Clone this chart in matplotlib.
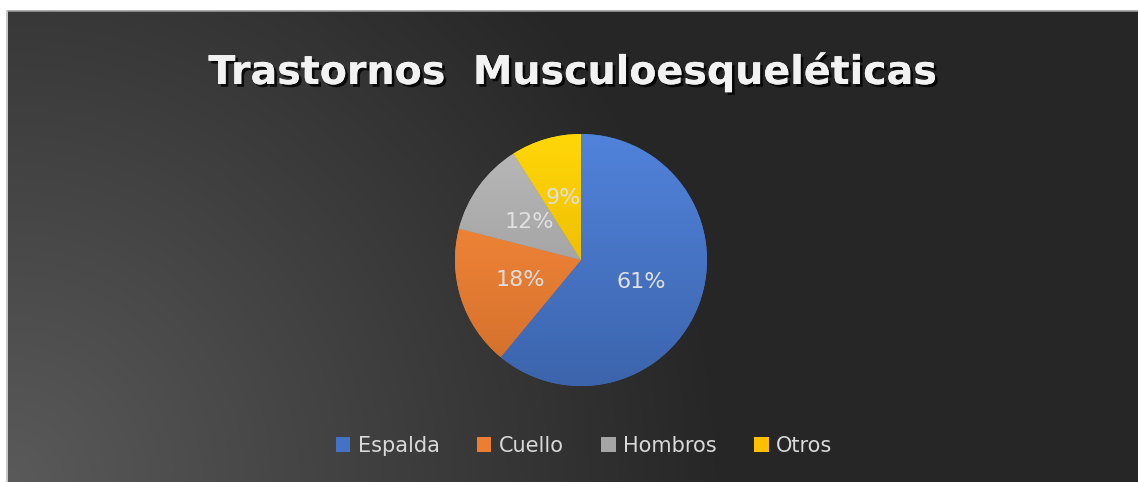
import numpy as np
import matplotlib
matplotlib.use('Agg')
import matplotlib.pyplot as plt
import matplotlib.colors as mcolors
import matplotlib.patheffects as pe
from matplotlib.patches import Patch

# data
categories = ['Espalda', 'Cuello', 'Hombros', 'Otros']
values = [61, 18, 12, 9]
colors = ['#4472C4', '#ED7D31', '#A5A5A5', '#FFC000']
title = 'Trastornos  Musculoesqueléticas'

W, H = 1138, 482
fig = plt.figure(figsize=(W / 100, H / 100), dpi=100, facecolor='white')

# background panel with a radial gradient (lighter at bottom-left)
bg = fig.add_axes([0, 0, 1, 1])
bg.set_xlim(0, W)
bg.set_ylim(H, 0)
bg.axis('off')
x0, y0 = 8, 11
xx, yy = np.meshgrid(np.arange(x0, W), np.arange(y0, H))
d = np.hypot(xx - x0, yy - H)
v = 38 + 52 * np.clip(1 - d / 720, 0, 1)
img = np.dstack([v, v, v]) / 255
bg.imshow(img, extent=[x0, W, H, y0], aspect='auto', interpolation='bilinear')
bg.plot([x0, W], [y0 - 0.5, y0 - 0.5], color='#9a9a9a', lw=1.2)
bg.plot([x0 - 0.5, x0 - 0.5], [y0, H], color='#bdbdbd', lw=1.2)

# title
bg.text(573, 72, title, ha='center', va='center', fontsize=28.5, fontweight='bold',
        color='#f2f2f2',
        path_effects=[pe.withSimplePatchShadow(offset=(2, -2), shadow_rgbFace='black', alpha=0.8),
                      pe.Normal()])

# pie
cx, cy, r = 581, 260, 126
ax = fig.add_axes([(cx - r) / W, (H - cy - r) / H, 2 * r / W, 2 * r / H])
wedges, texts, autotexts = ax.pie(values, colors=colors, startangle=90, counterclock=False,
                                  autopct='%1.0f%%', pctdistance=0.51,
                                  wedgeprops=dict(linewidth=0),
                                  textprops=dict(color='#e0e0e0', fontsize=16))
ax.set_xlim(-1, 1)
ax.set_ylim(-1, 1)
ax.set_aspect('equal')
ax.axis('off')

# subtle vertical shading inside each slice
for w, c in zip(wedges, colors):
    base = np.array(mcolors.to_rgb(c))
    t = np.linspace(0, 1, 200)[:, None]
    light = np.clip(base * 1.08 + 0.03, 0, 1)
    dark = base * 0.88
    grad = light * (1 - t[..., None]) + dark * t[..., None]
    grad = np.repeat(grad, 2, axis=1)
    im = ax.imshow(grad, extent=[-1, 1, -1, 1], aspect='auto', zorder=w.get_zorder() + 0.1)
    im.set_clip_path(w)
for t in autotexts:
    t.set_zorder(5)

# legend
handles = [Patch(facecolor=c, edgecolor='none') for c in colors]
fig.legend(handles, categories, loc='center', bbox_to_anchor=(584 / W, 1 - 446 / H),
           ncol=4, frameon=False, fontsize=15, labelcolor='#d9d9d9',
           handlelength=0.7, handleheight=0.7, handletextpad=0.35, columnspacing=1.8)

fig.savefig('out.png', dpi=100, facecolor='white')
